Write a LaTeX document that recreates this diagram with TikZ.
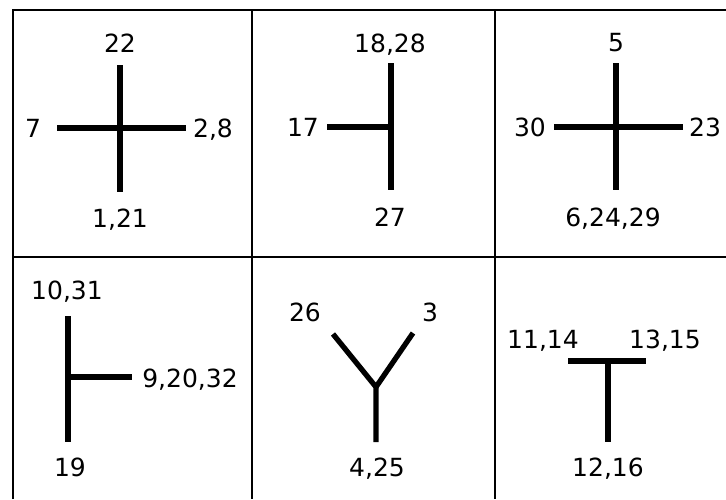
\documentclass[tikz,border=0pt]{standalone}
\usepackage{fontspec}
\setmainfont{DejaVu Sans}

\begin{document}
\begin{tikzpicture}[x=1pt,y=-1pt,
 lbl/.style={font=\fontsize{25}{30}\selectfont,inner sep=0pt,text height=18pt,text depth=0pt},
 arm/.style={line width=5.3pt},
 rule/.style={line width=2pt}]
 \path[use as bounding box] (0,0) rectangle (726,499);
 % table
 \draw[rule] (13,499)--(13,10)--(726,10);
 \draw[rule] (13,257)--(726,257);
 \foreach \x in {252,495}{\draw[rule] (\x,10)--(\x,499);}
 % cell 1
 \coordinate (a1) at (120,128);
 \coordinate (a1n) at (120,65); \coordinate (a1s) at (120,192);
 \coordinate (a1w) at (57,128); \coordinate (a1e) at (186,128);
 \draw[arm] (a1n)--(a1s);
 \draw[arm] (a1w)--(a1e);
 \node[lbl] (t22) at (120,43){22};
 \node[lbl] (t7) at (33,128){7};
 \node[lbl] (t28) at (213,128){2,8};
 \node[lbl] (t121) at (120,218){1,21};
 % cell 2
 \coordinate (b1) at (391,127);
 \coordinate (b1n) at (391,63); \coordinate (b1s) at (391,190);
 \coordinate (b1w) at (327,127);
 \draw[arm] (b1n)--(b1s);
 \draw[arm] (b1w)--(b1);
 \node[lbl] (t1828) at (390,43){18,28};
 \node[lbl] (t17) at (303,127){17};
 \node[lbl] (t27) at (390,217){27};
 % cell 3
 \coordinate (c1) at (616,127);
 \coordinate (c1n) at (616,63); \coordinate (c1s) at (616,190);
 \coordinate (c1w) at (554,127); \coordinate (c1e) at (683,127);
 \draw[arm] (c1n)--(c1s);
 \draw[arm] (c1w)--(c1e);
 \node[lbl] (t5) at (616,42){5};
 \node[lbl] (t30) at (530,127){30};
 \node[lbl] (t23) at (705,127){23};
 \node[lbl] (t62429) at (613,217){6,24,29};
 % cell 4
 \coordinate (d1) at (68,377);
 \coordinate (d1n) at (68,316); \coordinate (d1s) at (68,442);
 \coordinate (d1e) at (132,377);
 \draw[arm] (d1n)--(d1s);
 \draw[arm] (d1)--(d1e);
 \node[lbl] (t1031) at (67,290){10,31};
 \node[lbl] (t92032) at (190,378){9,20,32};
 \node[lbl] (t19) at (70,467){19};
 % cell 5
 \coordinate (e1) at (376,387);
 \coordinate (e1l) at (333,334); \coordinate (e1r) at (413,333);
 \coordinate (e1s) at (376,442);
 \draw[arm] (e1l)--(e1)--(e1s);
 \draw[arm] (e1r)--(e1);
 \node[lbl] (t26) at (305,312){26};
 \node[lbl] (t3) at (430,312){3};
 \node[lbl] (t425) at (377,467){4,25};
 % cell 6
 \coordinate (f1) at (608,361);
 \coordinate (f1w) at (568,361); \coordinate (f1e) at (646,361);
 \coordinate (f1s) at (608,442);
 \draw[arm] (f1w)--(f1e);
 \draw[arm] (f1)--(f1s);
 \node[lbl] (t1114) at (543,339){11,14};
 \node[lbl] (t1315) at (665,339){13,15};
 \node[lbl] (t1216) at (608,467){12,16};
\end{tikzpicture}
\end{document}
